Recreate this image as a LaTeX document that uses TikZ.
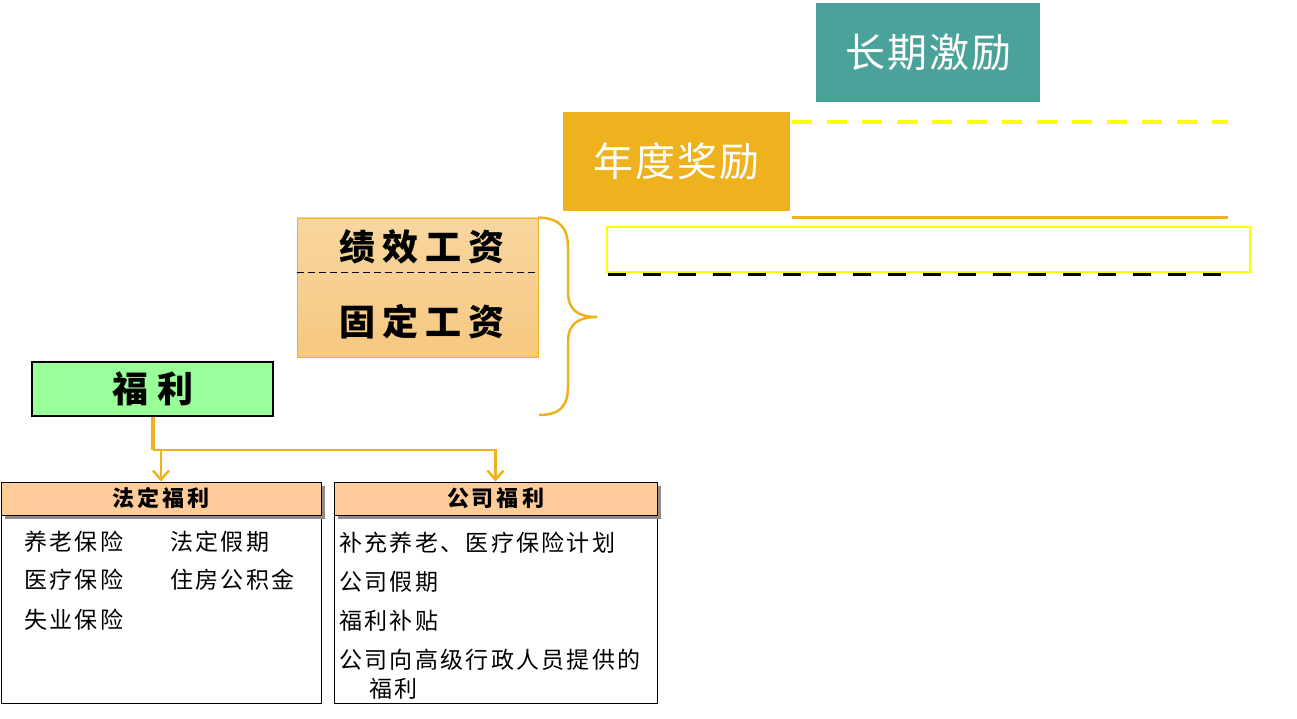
\documentclass[tikz,border=0pt]{standalone}
\usepackage{fontspec}
\newfontfamily\cjk{Noto Sans CJK SC}
\usetikzlibrary{arrows.meta,shadows}
\definecolor{teal1}{HTML}{4BA29A}
\definecolor{gold1}{HTML}{EDB21E}
\definecolor{ylw}{HTML}{FFFF00}
\definecolor{lgreen}{HTML}{99FF99}
\definecolor{peach}{HTML}{FFCC99}
\definecolor{salT}{HTML}{F8D6A0}
\definecolor{salB}{HTML}{F6C87F}
\makeatletter
\newcommand\lsp[2]{\def\lsp@sep{}\@tfor\lsp@c:=#2\do{\lsp@sep\lsp@c\def\lsp@sep{\hspace{#1}}}}
\makeatother
\begin{document}
\begin{tikzpicture}[x=1pt,y=-1pt,
  bigbox/.style={inner sep=0pt, text=white, font=\cjk\fontsize{40}{42}\selectfont},
  saltext/.style={inner sep=0pt, text=black, font=\cjk\bfseries\fontsize{36}{38}\selectfont},
  hdr/.style={draw=black, fill=peach, line width=1pt, inner sep=0pt, minimum height=33pt,
    font=\cjk\bfseries\fontsize{22}{24}\selectfont,
    drop shadow={shadow xshift=4pt, shadow yshift=-4pt, fill=black!45, opacity=1}},
  contentbox/.style={draw=black, fill=white, line width=0.8pt, inner sep=0pt, minimum height=188pt},
  item/.style={anchor=west, inner sep=0pt, font=\cjk\fontsize{23}{25}\selectfont},
  goldline/.style={draw=gold1, line width=2.5pt},
  arr/.style={goldline, -{Straight Barb[length=9pt,width=16pt,line width=2.5pt]}}
]
\useasboundingbox (0,0) rectangle (1297,719);
\fill[white] (0,0) rectangle (1297,719);

% top boxes
\node[bigbox, fill=teal1, minimum width=224pt, minimum height=99pt] (lt) at (928,52.5) {\lsp{2pt}{长期激励}};
\node[bigbox, fill=gold1, minimum width=227pt, minimum height=99pt] (nd) at (676.5,161.5) {\lsp{2pt}{年度奖励}};

% lines on the right
\draw[ylw, line width=4.5pt, dash pattern=on 20pt off 15pt] (792,122) -- (1228,122);
\draw[gold1, line width=3pt] (792,218) -- (1228,218);
\draw[black, line width=3pt, dash pattern=on 18pt off 17pt] (608,274.5) -- (1222,274.5);
\draw[ylw, line width=2pt] (607,227) rectangle (1250,272);

% salary box
\node[draw=gold1, line width=0.8pt, top color=salT, bottom color=salB,
      minimum width=241pt, minimum height=139pt, inner sep=0pt] (sal) at (417.5,287.5) {};
\draw[black, line width=1.5pt, dash pattern=on 7pt off 4pt]
  ([yshift=-55pt]sal.north west) -- ([yshift=-55pt]sal.north east);
\node[saltext] (jx) at (422,247) {\lsp{7pt}{绩效工资}};
\node[saltext] (gd) at (422,322) {\lsp{7pt}{固定工资}};

% brace
\draw[gold1, line width=2.5pt] (sal.north east) .. controls (560,218) and (568,228) .. (568,248)
  -- (568,292) .. controls (568,310) and (578,317) .. (597,317)
  .. controls (578,317) and (568,324) .. (568,342)
  -- (568,386) .. controls (568,406) and (560,415) .. (539,415);

% welfare
\node[draw=black, line width=2pt, fill=lgreen, minimum width=241pt, minimum height=54pt,
      inner sep=0pt, font=\cjk\bfseries\fontsize{36}{38}\selectfont] (fl) at (152.5,389) {\lsp{9pt}{福利}};

% lower boxes
\node[contentbox, minimum width=320pt] (fdb) at (161,609) {};
\node[contentbox, minimum width=323pt] (gsb) at (495.5,609) {};
\node[hdr, minimum width=320pt] (fd) at (161,498.5) {\lsp{3pt}{法定福利}};
\node[hdr, minimum width=323pt] (gs) at (495.5,498.5) {\lsp{3pt}{公司福利}};

% connectors
\coordinate (j) at ([yshift=-33pt]fl.south);
\draw[gold1, line width=4pt] (fl.south) -- (j);
\draw[arr] (j) -| (gs.north);
\draw[arr] (j -| fd.north) -- (fd.north);

% items
\node[item] (i1) at (24,542) {\lsp{2.3pt}{养老保险}};
\node[item] (i2) at (24,580) {\lsp{2.3pt}{医疗保险}};
\node[item] (i3) at (24,620) {\lsp{2.3pt}{失业保险}};
\node[item] (i4) at (170,542) {\lsp{2.3pt}{法定假期}};
\node[item] (i5) at (170,580) {\lsp{2.3pt}{住房公积金}};

\node[item] (k1) at (339,543) {\lsp{2.3pt}{补充养老、医疗保险计划}};
\node[item] (k2) at (339,582) {\lsp{2.3pt}{公司假期}};
\node[item] (k3) at (339,621) {\lsp{2.3pt}{福利补贴}};
\node[item] (k4) at (339,660) {\lsp{2.3pt}{公司向高级行政人员提供的}};
\node[item] (k5) at (369,689) {\lsp{2.3pt}{福利}};
\end{tikzpicture}
\end{document}
